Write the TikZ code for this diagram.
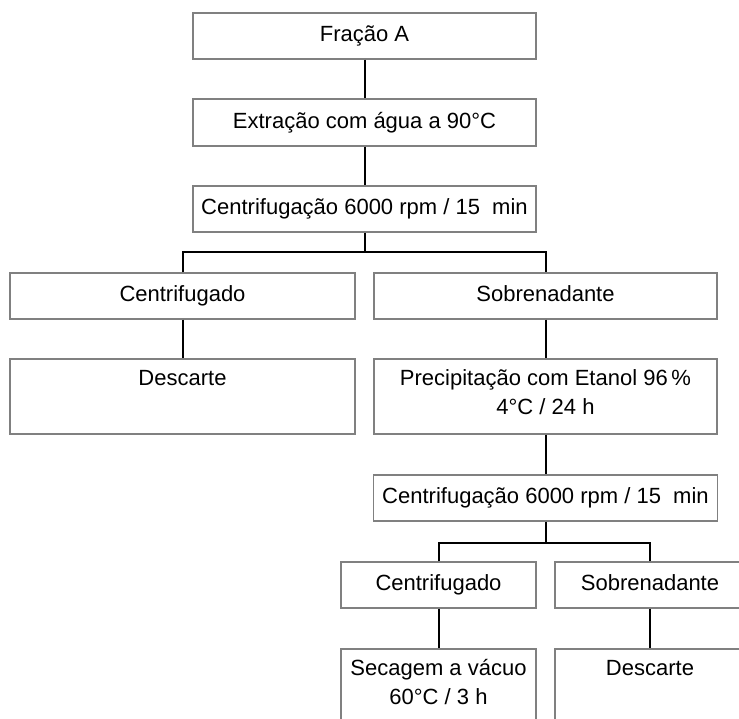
\documentclass[tikz,border=0pt]{standalone}
\usepackage{fontspec}
\setmainfont{Liberation Sans}
\begin{document}
\begin{tikzpicture}[x=1pt,y=-1pt,
  box/.style={draw=black!50,line width=1.4pt,fill=white,inner sep=0pt,align=center,
    font=\fontsize{22}{29}\selectfont,
    execute at begin node=\strut, execute at end node=\strut},
  link/.style={draw=black,line width=2pt}]
\useasboundingbox (0,0) rectangle (739,719);
\fill[white] (0,0) rectangle (739,719);
\clip (0,0) rectangle (739,719);
\node[box,minimum width=343pt,minimum height=46pt] (b1) at (364.5,36) {Fração A};
\node[box,minimum width=343pt,minimum height=47pt] (b2) at (364.5,122.5) {Extração com água a 90°C};
\node[box,minimum width=343pt,minimum height=46pt] (b3) at (364.5,209) {Centrifugação 6000 rpm / 15\ \ min};
\node[box,minimum width=345pt,minimum height=46pt] (b4) at (182.5,296) {Centrifugado};
\node[box,minimum width=343pt,minimum height=46pt] (b5) at (545.5,296) {Sobrenadante};
\node[box,minimum width=345pt,minimum height=75pt] (b6) at (182.5,396.5) {Descarte\\};
\node[box,minimum width=343pt,minimum height=75pt] (b7) at (545.5,396.5) {Precipitação com Etanol 96\,\%\\4°C / 24 h};
\node[box,minimum width=344pt,minimum height=46pt] (b8) at (545.5,498) {Centrifugação 6000 rpm / 15\ \ min};
\node[box,minimum width=195pt,minimum height=46pt] (b9) at (438.5,585) {Centrifugado};
\node[box,minimum width=190pt,minimum height=46pt] (b10) at (650,585) {Sobrenadante};
\node[box,minimum width=195pt,minimum height=75pt] (b11) at (438.5,686.5) {Secagem a vácuo\\60°C / 3 h};
\node[box,minimum width=190pt,minimum height=75pt] (b12) at (650,686.5) {Descarte\\};
\coordinate (j1) at (364.5,252);
\coordinate (j2) at (545.5,543);
\draw[link] (b1.south) -- (b2.north);
\draw[link] (b2.south) -- (b3.north);
\draw[link] (b3.south) -- (j1);
\draw[link] (b4.north) |- (j1) -| (b5.north);
\draw[link] (b4.south) -- (b6.north);
\draw[link] (b5.south) -- (b7.north);
\draw[link] (b7.south) -- (b8.north);
\draw[link] (b8.south) -- (j2);
\draw[link] (b9.north) |- (j2) -| (b10.north);
\draw[link] (b9.south) -- (b11.north);
\draw[link] (b10.south) -- (b12.north);
\end{tikzpicture}
\end{document}
